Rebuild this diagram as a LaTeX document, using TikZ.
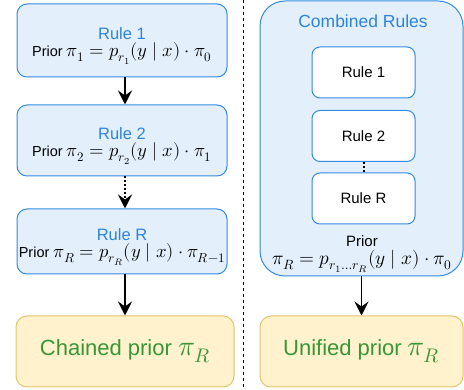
\documentclass[tikz,border=0pt]{standalone}
\usepackage{amsmath}
\usepackage{fontspec}
\usepackage{unicode-math}
\setmainfont{Liberation Sans}
\setmathfont{Latin Modern Math}[Scale=1.28]
\usetikzlibrary{arrows.meta, positioning}
\definecolor{ruleblue}{RGB}{227,240,252}
\definecolor{ruleedge}{RGB}{52,137,224}
\definecolor{ruletext}{RGB}{45,132,220}
\definecolor{priorfill}{RGB}{255,242,204}
\definecolor{prioredge}{RGB}{226,196,108}
\definecolor{priortext}{RGB}{56,150,56}
\newcommand{\headfont}{\fontsize{16.5}{20}\selectfont}
\newcommand{\priorfont}{\fontsize{14.5}{18}\selectfont}
% two centred lines, ink lowered a little inside the node
\newcommand{\twolines}[3][5.5pt]{\raisebox{-#1}[\height][\depth]{%
  \begin{tabular}{@{}c@{}}#2\\[0pt]#3\end{tabular}}}
\tikzset{
  rulebox/.style={rectangle, rounded corners=10pt, draw=ruleedge, line width=1pt,
                  fill=ruleblue, minimum width=210pt, inner sep=0pt},
  innerbox/.style={rectangle, rounded corners=8pt, draw=ruleedge, line width=1pt,
                   fill=white, minimum width=103pt, minimum height=51pt,
                   font=\fontsize{15}{18}\selectfont},
  resultbox/.style={rectangle, rounded corners=11pt, draw=prioredge, line width=1pt,
                    fill=priorfill, minimum height=71pt, text=priortext,
                    font=\fontsize{22}{26}\selectfont},
  arrow/.style={-{Stealth[length=14pt,width=14pt,inset=5pt]}, line width=1.8pt},
  dotarrow/.style={arrow, dash pattern=on 2pt off 2pt},
}
\begin{document}
\begin{tikzpicture}[x=1pt, y=-1pt]
  \useasboundingbox (0,0) rectangle (464,390);

  % Chained rules
  \node[rulebox, minimum height=73pt] (rule1) at (122,40.5)
    {\twolines{\headfont\color{ruletext}Rule 1}
              {\priorfont Prior $\pi_1 = p_{r_1}(y \mid x) \cdot \pi_0$}};
  \node[rulebox, minimum height=71pt, below=27pt of rule1] (rule2)
    {\twolines{\headfont\color{ruletext}Rule 2}
              {\priorfont Prior $\pi_2 = p_{r_2}(y \mid x) \cdot \pi_1$}};
  \node[rulebox, minimum height=65pt, below=32pt of rule2] (ruleR)
    {\twolines{\headfont\color{ruletext}Rule R}
              {\priorfont Prior $\pi_R = p_{r_R}(y \mid x) \cdot \pi_{R-1}$}};
  \node[resultbox, minimum width=218pt] (chained) at (125,351.5)
    {Chained prior $\pi_R$};

  % Divider
  \coordinate (divtop) at (243,0);
  \coordinate (divbot) at (243,390);
  \draw[line width=1pt, dash pattern=on 3pt off 3pt] (divtop) -- (divbot);

  % Combined rules
  \node[rectangle, rounded corners=25pt, draw=ruleedge, line width=1pt,
        fill=ruleblue, minimum width=203pt, minimum height=275pt] (combined)
    at (361.5,138.5) {};
  \node[font=\fontsize{17.5}{21}\selectfont, text=ruletext] (combtitle)
    at (363,21) {Combined Rules};
  \node[innerbox] (inner1) at (363.5,72.5) {Rule 1};
  \node[innerbox] (inner2) at (363.5,136) {Rule 2};
  \node[innerbox] (innerR) at (363.5,198.5) {Rule R};
  \node[inner sep=0pt] (combprior) at (362,254)
    {\twolines[0pt]{\fontsize{15}{18}\selectfont Prior}
              {\fontsize{15}{18}\selectfont $\pi_R = p_{r_1 \ldots r_R}(y \mid x) \cdot \pi_0$}};
  \node[resultbox, minimum width=203pt] (unified) at (361.5,351.5)
    {Unified prior $\pi_R$};

  % Arrows
  \draw[arrow] (rule1.south -| chained.north) -- (rule2.north -| chained.north);
  \draw[dotarrow] (rule2.south -| chained.north) -- (ruleR.north -| chained.north);
  \draw[arrow] (ruleR.south -| chained.north) -- (chained.north);
  \draw[line width=2pt, dash pattern=on 2pt off 2pt] (inner2) -- (innerR);
  \draw[arrow] (combined.south) -- (unified.north);
\end{tikzpicture}
\end{document}
